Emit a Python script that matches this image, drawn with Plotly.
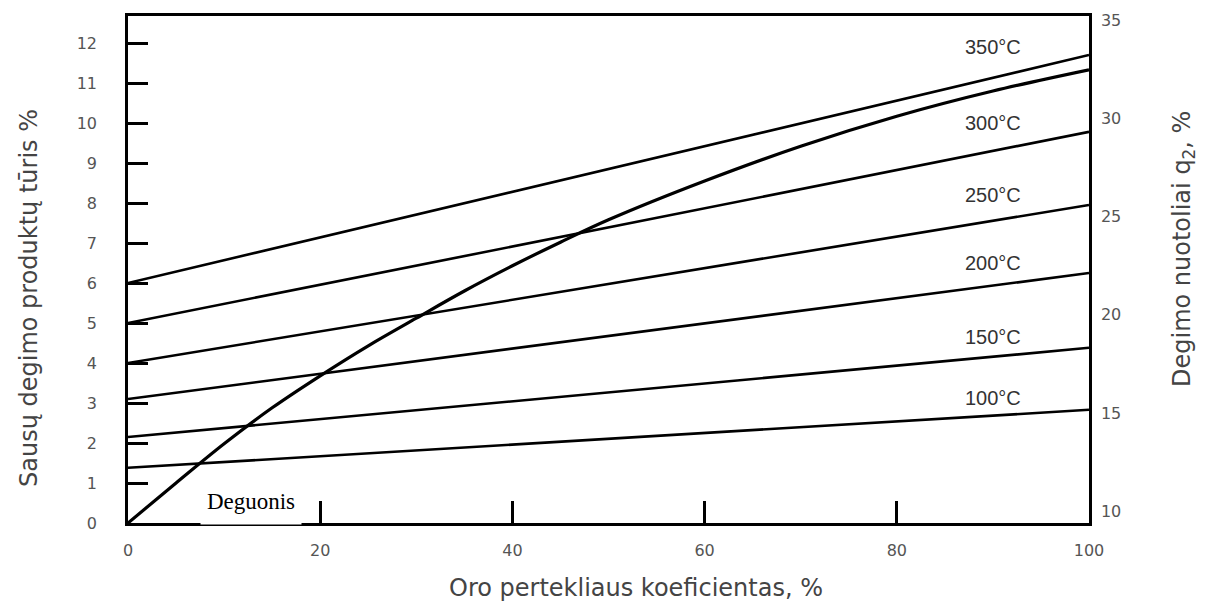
import plotly.graph_objects as go

# ---- data ----
temp_labels = ["350°C", "300°C", "250°C", "200°C", "150°C", "100°C"]
temp_start = [6.0, 5.0, 4.0, 3.1, 2.15, 1.38]     # value at 0 %
temp_end = [11.7, 9.78, 7.95, 6.25, 4.38, 2.83]   # value at 100 %
line_x = [0, 100]

oxygen_x = [0, 5, 10, 15, 20, 25, 30, 35, 40, 45, 50, 60, 70, 80, 90, 100]
oxygen_y = [0, 1.0, 1.98, 2.88, 3.68, 4.43, 5.12, 5.8, 6.43, 7.02, 7.58, 8.55, 9.42, 10.17, 10.8, 11.33]

left_ticks = list(range(0, 13))
right_ticks = [10, 15, 20, 25, 30, 35]
x_ticks = [0, 20, 40, 60, 80, 100]

W, H = 1205, 605
OFF = 8  # page body margin in the browser
ML, MR, MT, MB = 120, 124, 8, 90
PW, PH = W - ML - MR, H - MT - MB
X0, Y0 = ML + OFF, MT + OFF + PH   # screen position of plot's bottom-left corner


def px_x(px):
    return (px - X0) / PW


def px_y(py):
    return (Y0 - py) / PH


fig = go.Figure()

for lab, s, e in zip(temp_labels, temp_start, temp_end):
    fig.add_trace(go.Scatter(x=line_x, y=[s, e], mode="lines",
                             line=dict(color="black", width=2.6),
                             showlegend=False, hoverinfo="skip"))
    yl = s + (e - s) * 0.98
    fig.add_annotation(x=90, y=yl, xref="x", yref="y", text=lab, showarrow=False,
                       xanchor="center", yshift=13,
                       font=dict(family="Liberation Sans", size=20, color="#333"))

fig.add_trace(go.Scatter(x=oxygen_x, y=oxygen_y, mode="lines", line_shape="spline",
                         line=dict(color="black", width=3.2),
                         showlegend=False, hoverinfo="skip"))

# dummy trace for right axis
fig.add_trace(go.Scatter(x=[None], y=[None], yaxis="y2", showlegend=False))

tickfont = dict(family="DejaVu Sans", size=16, color="#555")
titlefont = dict(family="DejaVu Sans", size=24, color="#444")

fig.update_layout(
    width=W, height=H,
    margin=dict(l=ML, r=MR, t=MT, b=MB),
    paper_bgcolor="white", plot_bgcolor="white",
    xaxis=dict(range=[0, 100], tickvals=x_ticks, ticks="inside", ticklen=22, tickwidth=2.5,
               tickcolor="black", showline=True, linecolor="black", linewidth=2.5, mirror=True,
               showgrid=False, zeroline=False, tickfont=tickfont, ticklabelstandoff=11,
               automargin=False),
    yaxis=dict(range=[0, 12.675], tickvals=left_ticks, ticks="inside", ticklen=20, tickwidth=2.5,
               tickcolor="black", showline=True, linecolor="black", linewidth=2.5,
               showgrid=False, zeroline=False, tickfont=tickfont, ticklabelstandoff=25,
               automargin=False),
    yaxis2=dict(range=[9.4, 35.2], tickvals=right_ticks, overlaying="y", side="right",
                ticks="", showline=True, linecolor="black", linewidth=2.5,
                showgrid=False, zeroline=False, tickfont=tickfont, ticklabelstandoff=6,
                automargin=False),
)

# Axis titles
fig.add_annotation(xref="paper", yref="paper", x=px_x(29), y=px_y(298),
                   xanchor="center", yanchor="middle",
                   text="Sausų degimo produktų tūris %", textangle=-90, showarrow=False,
                   font=titlefont)
fig.add_annotation(xref="paper", yref="paper", x=px_x(1183), y=px_y(249),
                   xanchor="center", yanchor="middle",
                   text="Degimo nuotoliai q<sub>2</sub>, %", textangle=-90, showarrow=False,
                   font=titlefont)
fig.add_annotation(xref="paper", yref="paper", x=px_x(636), y=px_y(588),
                   xanchor="center", yanchor="middle",
                   text="Oro pertekliaus koeficientas, %", showarrow=False,
                   font=titlefont)

# Oxygen label (white box covering the axis line, like the reference)
fig.add_annotation(xref="paper", yref="paper", x=px_x(251), y=px_y(501),
                   xanchor="center", yanchor="middle",
                   width=100, height=46, borderpad=0, valign="middle",
                   text="Deguonis", showarrow=False, bgcolor="white",
                   font=dict(family="Liberation Serif", size=23, color="black"))

fig.write_html("out.html")
